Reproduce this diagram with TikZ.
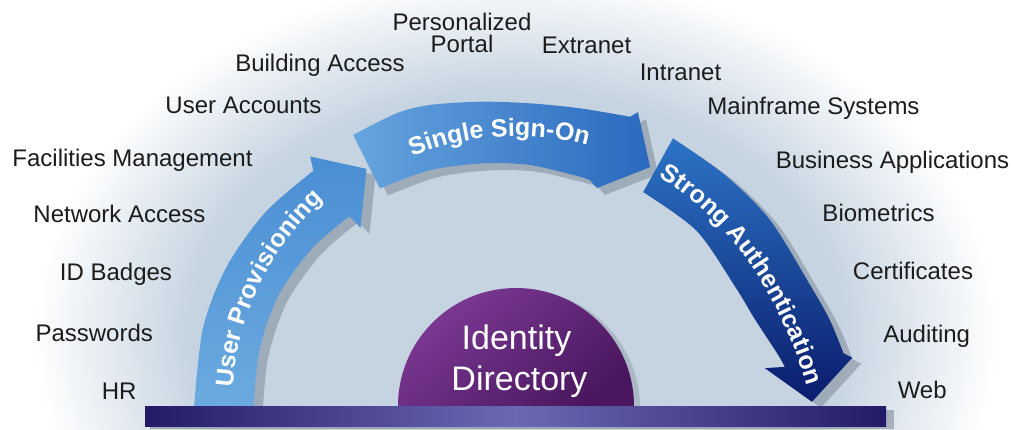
\documentclass[tikz,border=0pt]{standalone}
\usepackage{fontspec}
\setmainfont{Liberation Sans}
\usetikzlibrary{decorations.text}
\definecolor{bgblue}{HTML}{C6D4E1}
\definecolor{labelc}{HTML}{1C1C1C}
\definecolor{barD}{HTML}{241B68}
\definecolor{barL}{HTML}{6C68B4}
\definecolor{domeL}{HTML}{7E3A96}
\definecolor{domeD}{HTML}{4A175F}
\definecolor{upL}{HTML}{6DACE1}
\definecolor{upD}{HTML}{4A8ED3}
\definecolor{ssoL}{HTML}{66A5DE}
\definecolor{ssoD}{HTML}{2A69BE}
\definecolor{saT}{HTML}{2C74C6}
\definecolor{saB}{HTML}{0A1B6C}
\definecolor{shad}{HTML}{6F7A87}
\pgfdeclareradialshading{bgglow}{\pgfpoint{0bp}{0bp}}{color(0bp)=(bgblue); color(14.5bp)=(bgblue); color(21.5bp)=(white); color(50bp)=(white)}
\tikzset{
  lab/.style={font=\fontsize{24}{22}\selectfont, text=labelc, inner sep=0pt, anchor=base},
  shadowfill/.style={fill=shad, opacity=0.45},
  arrowtext/.style={decorate, decoration={text along path, text align=center, text color=white, text={|\fontsize{25}{25}\selectfont\bfseries|#1}}}
}
\begin{document}
\begin{tikzpicture}[x=1pt,y=1pt]
\useasboundingbox (0,0) rectangle (1013,429);
\fill[white] (0,0) rectangle (1013,429);
\begin{scope}
  \clip (0,0) rectangle (1013,429);
  \shade[shading=bgglow] (516,95) ellipse [x radius=560, y radius=420];
\end{scope}

% side labels
\node[lab, anchor=north, align=center] (pp) at (462,416) {Personalized\\Portal};
\node[lab] (ba) at (320,357.5) {Building Access};
\node[lab] (ex) at (586.5,375) {Extranet};
\node[lab] (in) at (680.5,348) {Intranet};
\node[lab] (ua) at (243.5,315.7) {User Accounts};
\node[lab] (ms) at (813.5,314) {Mainframe Systems};
\node[lab] (fm) at (132.5,262) {Facilities Management};
\node[lab] (bap) at (892.5,260.7) {Business Applications};
\node[lab] (na) at (119.5,206.5) {Network Access};
\node[lab] (bio) at (878.5,207.3) {Biometrics};
\node[lab] (idb) at (116,148) {ID Badges};
\node[lab] (cer) at (913,149) {Certificates};
\node[lab] (pw) at (94.2,87.3) {Passwords};
\node[lab] (aud) at (926.7,86.3) {Auditing};
\node[lab] (hr) at (119.2,29.7) {HR};
\node[lab] (web) at (922.2,30.7) {Web};

\begin{scope}[shift={(516,21)}]
  \def\pathUP{(182:323) -- plot[smooth] coordinates {(182:323) (166:323) (154:322) (142:318) (130.5:312)} -- (129.3:325) -- (122:282) -- (130.8:238) -- (131:254) -- plot[smooth] coordinates {(131:254) (142:259) (155:263) (168:263) (182:263)} -- cycle}
  \def\pathSSO{(120.8:318) -- plot[smooth] coordinates {(120.8:318) (112:318) (105.8:315) (96.7:308.4) (87.4:305) (78:306.4) (68.6:312.8)} -- (67.6:320) -- (60.9:275.7) -- (69.8:234.4) -- (72:239.5) -- plot[smooth] coordinates {(72:239.5) (75:240) (87:243.5) (98:247) (110:253) (121.8:258.4)} -- cycle}
  \def\pathSA{(59.8:312) -- plot[smooth] coordinates {(59.8:312) (48:313) (36.5:316) (22.4:319) (15.6:326) (9.5:332)} -- (8.5:340) -- (1.2:296) -- (9.1:252) -- (8.7:272) -- plot[smooth] coordinates {(8.7:272) (11.9:266.7) (20.2:255) (28.9:250.5) (44.5:253) (59.5:250.6)} -- cycle}
  % shadows
  \fill[shadowfill, shift={(9,-6)}] \pathUP;
  \fill[shadowfill, shift={(8,-7)}] \pathSSO;
  \fill[shadowfill, shift={(9,-6)}] \pathSA;
  % arrows
  \shade[top color=upD, bottom color=upL] \pathUP;
  \shade[left color=ssoL, right color=ssoD] \pathSSO;
  \shade[top color=saT, bottom color=saB] \pathSA;
  % arrow texts
  \path[arrowtext={User Provisioning}] (178:284) arc[start angle=178, end angle=130.6, radius=284];
  \path[arrowtext={Single Sign-On}] (123.6:272) arc[start angle=123.6, end angle=63.6, radius=272];
  \path[arrowtext={Strong Authentication}] (127.7,240.2) .. controls (216,193.3) and (271,102) .. (296,5.2);
\end{scope}

% identity directory dome
\fill[shadowfill, opacity=0.3] (404,21) arc[start angle=180, end angle=0, radius=118] -- cycle;
\shade[top color=domeL, bottom color=domeD, shading angle=40] (398,23) arc[start angle=180, end angle=0, radius=118] -- cycle;
\node[font=\fontsize{34}{34}\selectfont, text=white, inner sep=0pt, anchor=base] (id1) at (516.5,80) {Identity};
\node[font=\fontsize{34}{34}\selectfont, text=white, inner sep=0pt, anchor=base] (id2) at (519.5,39) {Directory};

% base bar
\fill[shadowfill, opacity=0.5] (150,0) rectangle (894,19);
\shade[left color=barD, right color=barD, middle color=barL] (145,3) rectangle (886,23);
\end{tikzpicture}
\end{document}
